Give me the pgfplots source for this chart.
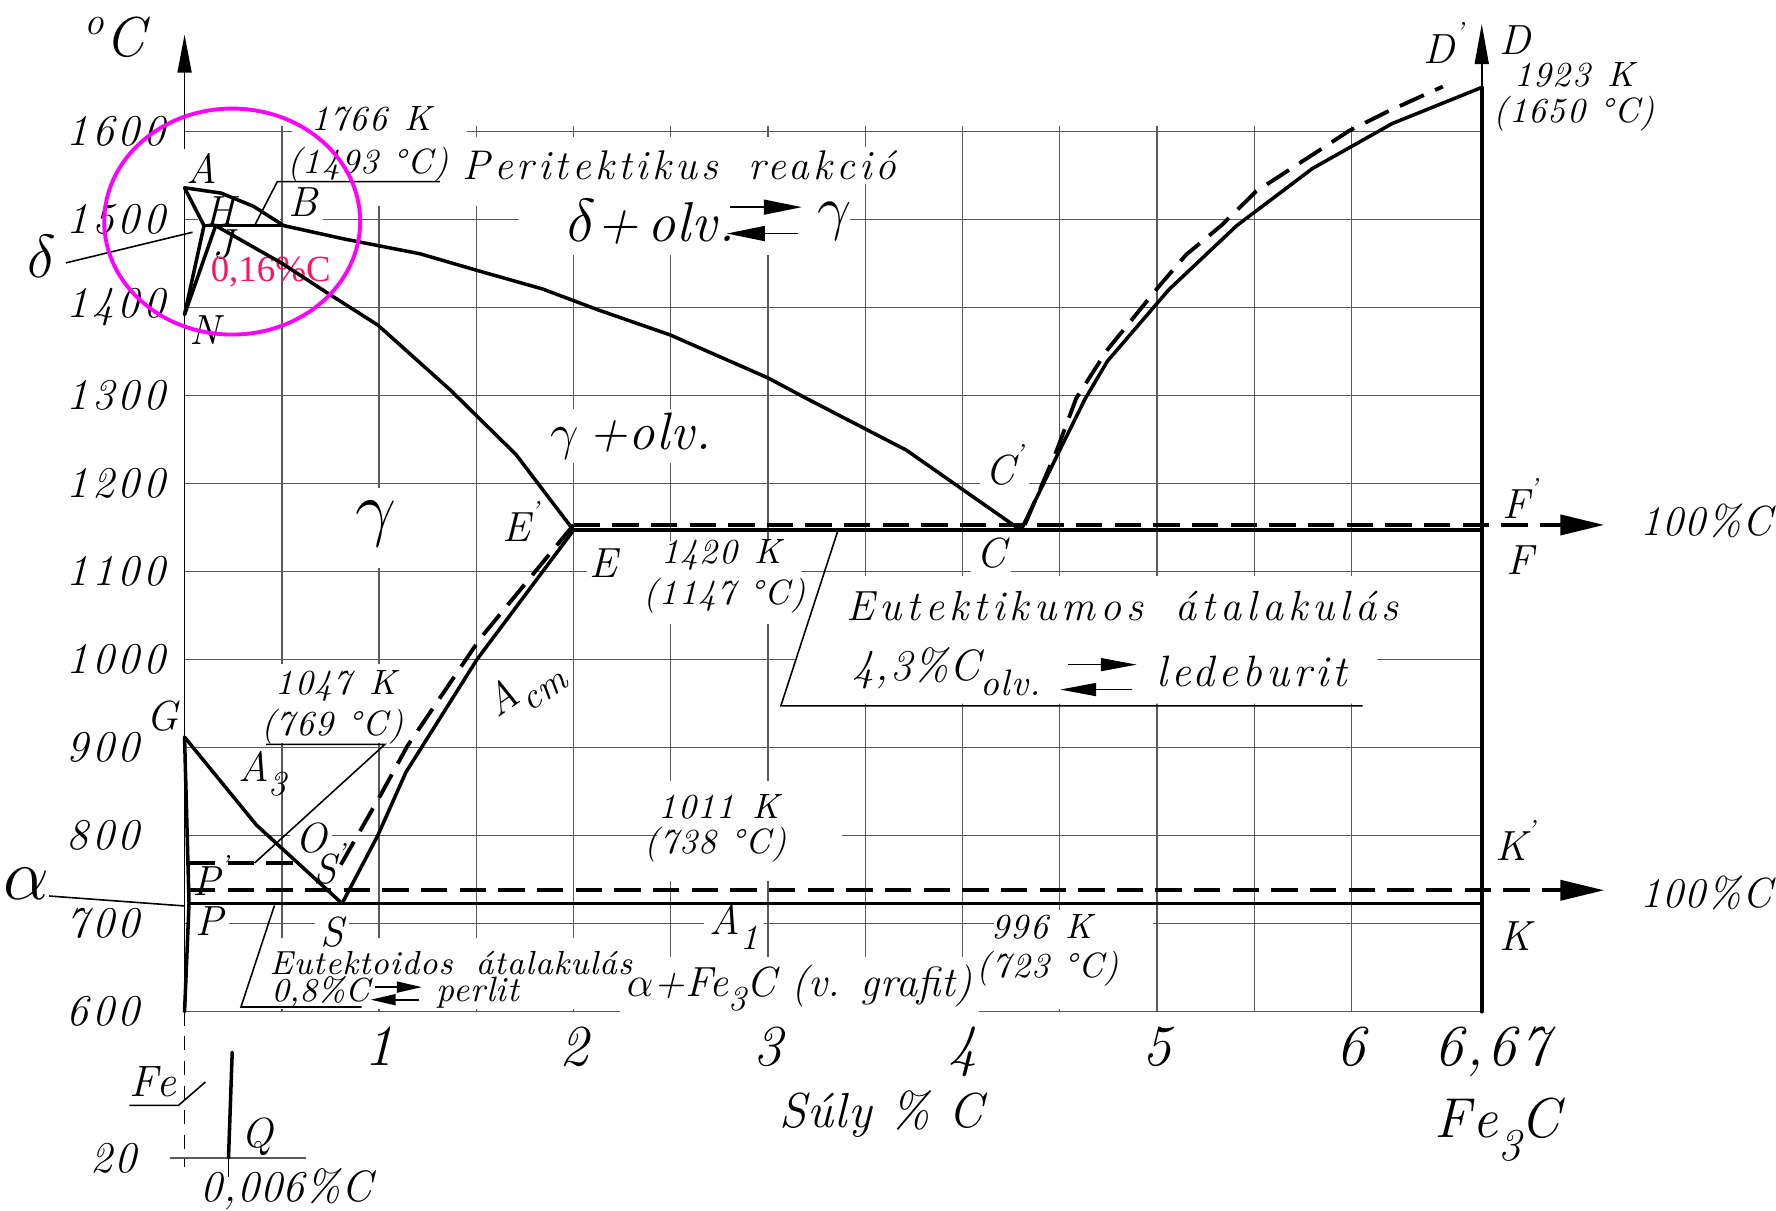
\documentclass[border=0pt]{standalone}
\usepackage{fontspec}
\setmainfont{Latin Modern Roman}
\usepackage{pgfplots}
\pgfplotsset{compat=1.18}
\usetikzlibrary{arrows.meta}

\definecolor{gridgray}{gray}{0.35}
\definecolor{ringcol}{RGB}{255,0,255}
\definecolor{notecol}{RGB}{250,20,100}
\newfontfamily\notefont{Liberation Serif}

% italic text at a given size with extra letter spacing
\newcommand{\ls}[2]{\fontsize{#1}{#1}\selectfont\itshape\addfontfeature{LetterSpace=#2}}
\newcommand{\sub}[2][0.35em]{\raisebox{-#1}{#2}}
\newcommand{\pr}{\raisebox{0.55em}{\scriptsize\textquoteright}}

\tikzset{
  pt/.style={font=\ls{12}{0}, inner sep=1.5pt},
  kel/.style={font=\ls{10}{4}, inner sep=1.5pt},
  wb/.style={fill=white},
  thin line/.style={line width=0.45pt, black},
  solid curve/.style={black, line width=1.0pt, line join=round, line cap=round},
  dash curve/.style={black, line width=1.1pt, line join=round, dash pattern=on 7.5pt off 3.5pt},
}

\begin{document}
\begin{tikzpicture}
\begin{axis}[
  x=1.945cm, y=0.0088cm,
  xmin=0, xmax=6.67, ymin=600, ymax=1606,
  clip=false,
  axis line style={draw=none},
  major tick length=0pt,
  xtick={0.5,1,1.5,2,2.5,3,3.5,4,4.5,5,5.5,6},
  xticklabels={,1,,2,,3,,4,,5,,6},
  extra x ticks={6.67},
  extra x tick labels={6{,}67},
  extra x tick style={grid=none, xticklabel style={xshift=0.1cm}},
  ytick={600,700,800,900,1000,1100,1200,1300,1400,1500,1600},
  yticklabels={600,700,800,900,1000,1100,1200,1300,1400,1500,1600},
  grid=major,
  grid style={gridgray, line width=0.4pt},
  xticklabel style={font=\ls{16.5}{6}, anchor=north, yshift=-0.03cm},
  yticklabel style={font=\ls{12.5}{8}, anchor=west, xshift=-1.3cm},
  no markers,
]

% ---------- gaps in the grid behind the text blocks
\fill[white] (0.55,1610) rectangle (1.45,1515);
\fill[white] (1.45,1594) rectangle (1.72,1515);
\fill[white] (1.72,1594) rectangle (3.42,1460);
\fill[white] (0.07,1497) rectangle (0.49,1503);
\fill[white] (0.51,1497) rectangle (0.71,1503);
\fill[white] (0.90,1195) rectangle (1.08,1104);
\fill[white] (2.07,1135) rectangle (3.17,1040);
\fill[white] (3.283,1095) -- (6.13,1095) -- (6.13,950) -- (3.07,950) -- cycle;
\fill[white] (0.45,995) rectangle (1.06,905);
\fill[white] (2.43,862) rectangle (3.38,748);
\fill[white] (4.16,716) rectangle (4.98,603);
\fill[white] (0.42,684) rectangle (2.32,603);

% ---------- axes of the diagram
\draw[thin line, -{Triangle[length=0.38cm,width=0.14cm]}] (0,600) -- (0,1710);
\draw[thin line, dash pattern=on 4pt off 3pt] (0,600) -- (0,424);
\draw[thin line, -{Triangle[length=0.40cm,width=0.14cm]}] (6.67,1650) -- (6.67,1722);
\draw[gridgray, line width=0.4pt] (-0.076,434) -- (0.623,434);
\draw[thin line] (0.226,434) -- (0.226,412);

% ---------- labels
\node[font=\ls{16}{0}] at (-0.36,1706.8) {\textsuperscript{o}C};
\node[kel, wb] at (0.961,1614.2) {1766\hspace{0.5em}K};
\node[kel] at (0.943,1562.7) {(1493\hspace{0.4em}°C)};
\node[font=\ls{11.8}{10}, wb, inner sep=1pt] at (2.545,1561.4) {Peritektikus\hspace{0.3em} reakció};
\node[font=\ls{16}{2}] at (2.40,1497) {$\delta$+\,olv.};
\node[font=\ls{16}{0}] at (3.343,1498) {$\gamma$};
\node[pt, wb] at (0.087,1557.5) {A};
\node[pt] at (0.18,1510) {H};
\node[pt, wb] at (0.61,1520.2) {B};
\node[pt] at (0.198,1471.3) {J};
\node[font=\notefont\fontsize{10.5}{11}\selectfont, text=notecol] at (0.443,1440.4) {0,16\%C};
\node[pt] at (0.105,1374.8) {N};
\node[font=\ls{16}{0}] at (-0.734,1458.4) {$\delta$};
\node[font=\ls{15}{2}, wb, inner sep=1pt] at (2.295,1253.8) {$\gamma$\,+olv.};
\node[font=\ls{20}{0}] at (0.984,1154.7) {$\gamma$};
\node[pt] at (1.73,1157) {E\pr};
\node[pt] at (2.155,1109.7) {E};
\node[kel] at (2.76,1118.7) {1420\hspace{0.5em}K};
\node[kel] at (2.778,1072.3) {(1147\hspace{0.4em}°C)};
\node[pt, wb] at (4.217,1221.6) {C\pr};
\node[pt, wb] at (4.147,1121.2) {C};
\node[pt] at (6.867,1183) {F\pr};
\node[pt] at (6.867,1113.5) {F};
\node[font=\ls{12}{3}] at (7.822,1157.3) {100\%C};
\node[font=\ls{12}{12}] at (4.822,1060.7) {Eutektikumos\hspace{0.3em} átalakulás};
\node[font=\ls{12.5}{3}, anchor=west] at (3.37,986) {4,3\%C\sub{\fontsize{10.5}{11}\selectfont olv.}};
\node[font=\ls{12.5}{9}] at (5.486,986) {ledeburit};
\node[kel] at (0.78,970.7) {1047\hspace{0.5em}K};
\node[kel] at (0.76,924.3) {(769\hspace{0.4em}°C)};
\node[pt, wb] at (-0.116,935.9) {G};
\node[pt] at (0.40,870.3) {A\sub{\fontsize{10}{10}\selectfont 3}};
\node[pt, wb] at (0.652,797) {O};
\node[pt] at (0.745,768) {S\pr};
\node[pt] at (0.134,754.4) {P\pr};
\node[font=\ls{20}{0}] at (-0.815,745.4) {$\alpha$};
\node[pt, wb] at (0.128,703) {P};
\node[pt, wb] at (0.757,690) {S};
\node[pt, wb] at (2.825,696.5) {A\sub{\fontsize{10}{10}\selectfont 1}};
\node[kel] at (2.749,833) {1011\hspace{0.5em}K};
\node[kel] at (2.73,789.2) {(738\hspace{0.4em}°C)};
\node[kel] at (4.41,696.5) {996\hspace{0.5em}K};
\node[kel] at (4.44,649) {(723\hspace{0.4em}°C)};
\node[pt] at (6.843,794.3) {K\pr};
\node[pt] at (6.843,686.2) {K};
\node[font=\ls{12}{3}] at (7.822,735.1) {100\%C};
\node[font=\ls{12}{1}, wb, inner sep=2pt] at (3.162,627) {$\alpha$+Fe\sub{\fontsize{10}{10}\selectfont 3}C (v. grafit)};
\node[font=\ls{9.5}{3}, inner sep=1pt] at (1.369,655.3) {Eutektoidos\hspace{0.3em} átalakulás};
\node[font=\ls{9.5}{0}, inner sep=1pt] at (0.70,621.9) {0,8\%C};
\node[font=\ls{10}{2}, inner sep=1pt] at (1.508,621.9) {perlit};
\node[font=\ls{14}{3}] at (3.582,484.2) {Súly \% C};
\node[font=\ls{16}{12}] at (6.75,466.2) {Fe\sub[0.4em]{\fontsize{13}{13}\selectfont 3}C};
\node[pt] at (6.476,1700.4) {D\pr};
\node[pt] at (6.843,1704.2) {D};
\node[kel] at (7.146,1664.4) {1923\hspace{0.5em}K};
\node[kel] at (7.146,1620.6) {(1650\hspace{0.4em}°C)};
\node[font=\ls{12}{2}, rotate=35] at (1.75,966) {A\sub{\fontsize{10.5}{11}\selectfont cm}};
\node[font=\ls{12.5}{4}] at (-0.163,520.2) {Fe};
\node[pt] at (0.373,458.4) {Q};
\node[font=\ls{12.5}{4}] at (-0.367,434) {20};
\node[font=\ls{12.5}{2}] at (0.524,398) {0,006\%C};

% ---------- leader lines and reaction arrows
\draw[thin line] (0.36,1493) -- (0.477,1543) -- (1.313,1543);
\draw[thin line] (-0.61,1450.7) -- (0.041,1485.5);
\draw[thin line] (3.36,1147) -- (3.066,947.5) -- (6.057,947.5);
\draw[thin line] (0.42,903.7) -- (1.03,903.7) -- (0.36,769);
\draw[thin line] (-0.697,731.5) -- (0,720.2);
\draw[thin line] (0.462,720.7) -- (0.29,605.4) -- (0.91,605.4);
\draw[thin line] (-0.284,493.7) -- (-0.031,493.7) -- (0.107,520.2);
\draw[thin line, -{Triangle[length=0.38cm,width=0.15cm]}] (2.807,1514) -- (3.174,1514);
\draw[thin line, -{Triangle[length=0.38cm,width=0.15cm]}] (3.153,1484) -- (2.788,1484);
\draw[thin line, -{Triangle[length=0.36cm,width=0.13cm]}] (4.54,994.3) -- (4.896,994.3);
\draw[thin line, -{Triangle[length=0.36cm,width=0.13cm]}] (4.869,966) -- (4.502,966);
\draw[thin line, -{Triangle[length=0.25cm,width=0.11cm]}] (0.979,628) -- (1.22,628);
\draw[thin line, -{Triangle[length=0.25cm,width=0.11cm]}] (1.207,613.7) -- (0.957,613.7);

% ---------- phase boundaries, stable (dashed) system
\addplot[dash curve, -{Triangle[length=0.44cm,width=0.2cm]}] coordinates {(2.0,1153) (7.30,1153)};
\addplot[dash curve, -{Triangle[length=0.44cm,width=0.2cm]}] coordinates {(0.023,738) (7.30,738)};
\addplot[dash curve] coordinates {(0.023,769) (0.573,769)};
\addplot[dash curve] coordinates {(2.0,1153) (1.52,1024) (1.146,902) (1.01,847) (0.78,758)};
\addplot[dash curve] coordinates {(4.32,1153) (4.485,1238) (4.585,1297) (4.745,1352) (5.01,1424)
  (5.15,1460) (5.33,1493) (5.51,1532) (5.81,1575) (5.99,1601) (6.19,1623) (6.47,1651)};

% ---------- phase boundaries, metastable (solid) system
\addplot[solid curve] coordinates {(0,1536) (0.187,1530) (0.354,1515) (0.51,1493)};
\addplot[solid curve] coordinates {(0.51,1493) (0.817,1478) (1.211,1461) (1.506,1442) (1.841,1421)
  (2.13,1397) (2.495,1369) (3.0,1320) (3.195,1297) (3.711,1238) (4.3,1147)};
\addplot[solid curve] coordinates {(0,1536) (0.1,1493)};
\addplot[solid curve] coordinates {(0.1,1493) (0.51,1493)};
\addplot[solid curve] coordinates {(0.1,1493) (0,1392)};
\addplot[solid curve] coordinates {(0.16,1493) (0,1392)};
\addplot[solid curve] coordinates {(0.16,1493) (0.502,1450) (0.738,1416) (0.994,1380) (1.368,1306)
  (1.704,1233) (2.0,1147)};
\addplot[solid curve] coordinates {(2.0,1147) (6.67,1147)};
\addplot[solid curve] coordinates {(2.0,1147) (1.503,1000) (1.138,872) (0.993,800) (0.81,723)};
\addplot[solid curve] coordinates {(0,912) (0.37,812) (0.81,723)};
\addplot[solid curve] coordinates {(0,912) (0.023,723) (0,600)};
\addplot[solid curve] coordinates {(0.023,723) (6.67,723)};
\addplot[solid curve] coordinates {(4.3,1147) (4.5,1238) (4.63,1296) (4.745,1339) (5.06,1420)
  (5.41,1493) (5.80,1558) (6.21,1609) (6.67,1650)};
\addplot[solid curve] coordinates {(6.67,600) (6.67,1650)};
\addplot[solid curve] coordinates {(0.245,554) (0.226,434)};

% ---------- ring round the peritectic corner
\draw[ringcol, line width=1.1pt] (0.245,1497.6) ellipse [x radius=1.28cm, y radius=1.13cm];

\coordinate (bbll) at (-0.949,374.8);
\coordinate (bbur) at (8.183,1749.3);
\end{axis}
\pgfresetboundingbox
\path (bbll) rectangle (bbur);
\end{tikzpicture}
\end{document}
